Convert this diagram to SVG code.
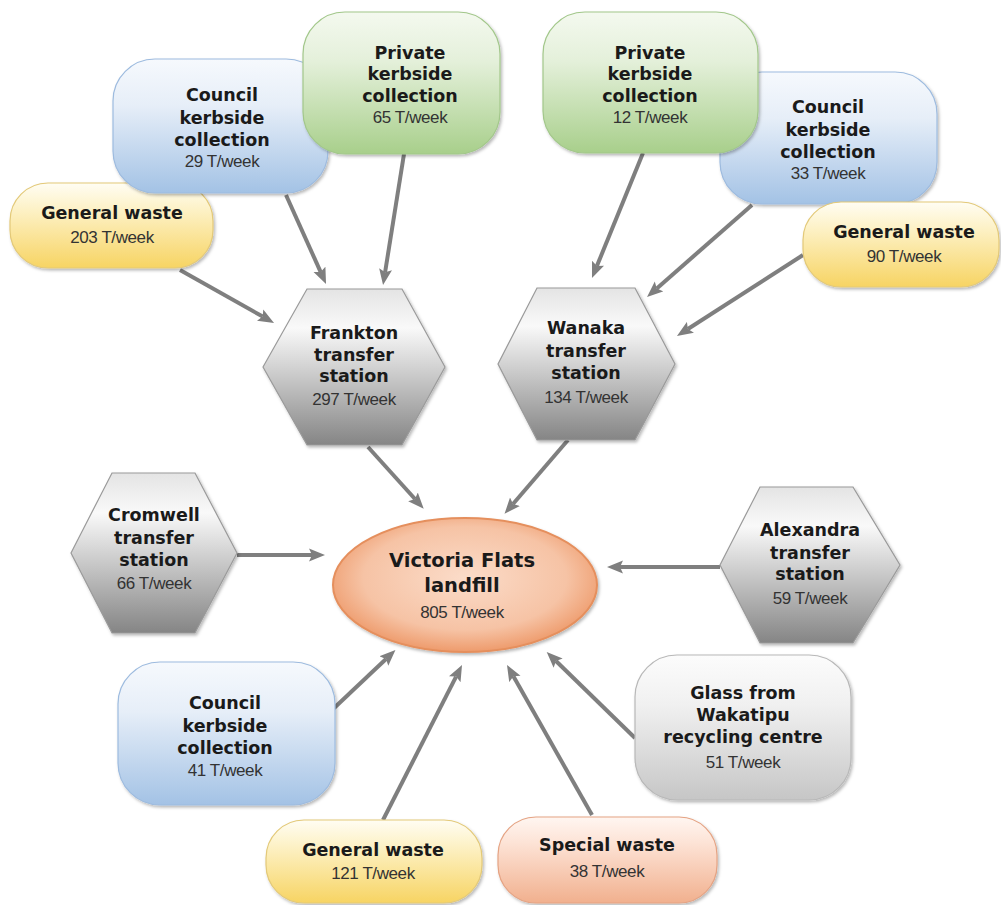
<svg xmlns="http://www.w3.org/2000/svg" width="1001" height="905" viewBox="0 0 1001 905">
<defs>
<linearGradient id="gBlue" x1="0" y1="0" x2="0" y2="1"><stop offset="0" stop-color="#f6f9fd"/><stop offset="0.35" stop-color="#e6eef8"/><stop offset="1" stop-color="#a3c2e5"/></linearGradient>
<linearGradient id="gGreen" x1="0" y1="0" x2="0" y2="1"><stop offset="0" stop-color="#f4f9ef"/><stop offset="0.35" stop-color="#e4f0da"/><stop offset="1" stop-color="#a8cf8b"/></linearGradient>
<linearGradient id="gYellow" x1="0" y1="0" x2="0" y2="1"><stop offset="0" stop-color="#fffdf3"/><stop offset="0.3" stop-color="#fdf2c8"/><stop offset="1" stop-color="#f7d463"/></linearGradient>
<linearGradient id="gHex" x1="0" y1="0" x2="0" y2="1"><stop offset="0" stop-color="#e4e4e4"/><stop offset="0.25" stop-color="#f9f9f9"/><stop offset="1" stop-color="#858585"/></linearGradient>
<linearGradient id="gGlass" x1="0" y1="0" x2="0" y2="1"><stop offset="0" stop-color="#fcfcfc"/><stop offset="0.35" stop-color="#f0f0f0"/><stop offset="1" stop-color="#c6c6c6"/></linearGradient>
<linearGradient id="gSpecial" x1="0" y1="0" x2="0" y2="1"><stop offset="0" stop-color="#fff6f1"/><stop offset="0.3" stop-color="#fde3d6"/><stop offset="1" stop-color="#f1b08e"/></linearGradient>
<radialGradient id="gOrange" cx="0.5" cy="0.45" r="0.55"><stop offset="0" stop-color="#fbdcc9"/><stop offset="0.7" stop-color="#f6c3a5"/><stop offset="1" stop-color="#ee9b6c"/></radialGradient>
<filter id="sh" x="-10%" y="-10%" width="125%" height="130%"><feDropShadow dx="1.5" dy="2" stdDeviation="1.5" flood-color="#000" flood-opacity="0.28"/></filter>
<marker id="ah" markerUnits="userSpaceOnUse" markerWidth="18" markerHeight="14" refX="3" refY="7" orient="auto"><path d="M0,0.5 L16,7 L0,13.5 L3,7 z" fill="#7f7f7f"/></marker>
<style>
.b{font-family:"DejaVu Sans",Verdana,sans-serif;font-weight:bold;font-size:17.5px;fill:#1a1a1a;text-anchor:middle}
.r{font-family:"Liberation Sans",Arial,sans-serif;font-size:17px;fill:#333;text-anchor:middle;letter-spacing:-0.4px}
.t{font-family:"DejaVu Sans",Verdana,sans-serif;font-weight:bold;font-size:19.5px;fill:#1a1a1a;text-anchor:middle}
.c{stroke:#7f7f7f;stroke-width:4;fill:none;marker-end:url(#ah)}
.blue{fill:url(#gBlue);stroke:#9dbbdf;stroke-width:1.2;filter:url(#sh)}
.green{fill:url(#gGreen);stroke:#a2c78a;stroke-width:1.2;filter:url(#sh)}
.yellow{fill:url(#gYellow);stroke:#e3c978;stroke-width:1.2;filter:url(#sh)}
.hex{fill:url(#gHex);stroke:#9a9a9a;stroke-width:1.2;filter:url(#sh)}
.glass{fill:url(#gGlass);stroke:#b8b8b8;stroke-width:1.2;filter:url(#sh)}
.special{fill:url(#gSpecial);stroke:#e5a383;stroke-width:1.2;filter:url(#sh)}
.orange{fill:url(#gOrange);stroke:#e58f5d;stroke-width:2;filter:url(#sh)}
</style>
</defs>
<rect width="1001" height="905" fill="#ffffff"/>
<g id="connectors">
<line class="c" x1="286" y1="195" x2="320.7" y2="272.1"/>
<line class="c" x1="404" y1="154" x2="385.1" y2="272.2"/>
<line class="c" x1="180" y1="270" x2="262.7" y2="316.6"/>
<line class="c" x1="368" y1="447" x2="415" y2="499"/>
<line class="c" x1="237" y1="555" x2="312" y2="555"/>
<line class="c" x1="643" y1="153" x2="596.9" y2="266"/>
<line class="c" x1="752" y1="205" x2="656.8" y2="288.4"/>
<line class="c" x1="803" y1="255" x2="687.9" y2="329"/>
<line class="c" x1="568" y1="440" x2="513" y2="504"/>
<line class="c" x1="720" y1="567" x2="620" y2="567"/>
<line class="c" x1="332" y1="710" x2="386" y2="659"/>
<line class="c" x1="383" y1="820" x2="456.1" y2="676.6"/>
<line class="c" x1="592" y1="815" x2="513.4" y2="676.3"/>
<line class="c" x1="635" y1="738" x2="556" y2="661"/>
</g>
<g id="general-tl">
<rect class="yellow" x="10" y="183" width="203" height="85" rx="38" ry="38"/>
<text class="b" x="112" y="219">General waste</text>
<text class="r" x="112" y="243">203 T/week</text>
</g>
<g id="council-tl">
<rect class="blue" x="113" y="59" width="215" height="134" rx="42" ry="42"/>
<text class="b" x="222" y="101">Council</text>
<text class="b" x="222" y="124">kerbside</text>
<text class="b" x="222" y="146">collection</text>
<text class="r" x="222" y="167">29 T/week</text>
</g>
<g id="private-tl">
<rect class="green" x="303" y="12" width="197" height="142" rx="42" ry="42"/>
<text class="b" x="410" y="59">Private</text>
<text class="b" x="410" y="80">kerbside</text>
<text class="b" x="410" y="102">collection</text>
<text class="r" x="410" y="123">65 T/week</text>
</g>
<g id="council-tr">
<rect class="blue" x="720" y="72" width="217" height="132" rx="42" ry="42"/>
<text class="b" x="828" y="113">Council</text>
<text class="b" x="828" y="136">kerbside</text>
<text class="b" x="828" y="158">collection</text>
<text class="r" x="828" y="179">33 T/week</text>
</g>
<g id="private-tr">
<rect class="green" x="543" y="12" width="215" height="141" rx="42" ry="42"/>
<text class="b" x="650" y="59">Private</text>
<text class="b" x="650" y="80">kerbside</text>
<text class="b" x="650" y="102">collection</text>
<text class="r" x="650" y="123">12 T/week</text>
</g>
<g id="general-tr">
<rect class="yellow" x="803" y="202" width="196" height="85" rx="38" ry="38"/>
<text class="b" x="904" y="238">General waste</text>
<text class="r" x="904" y="262">90 T/week</text>
</g>
<g id="frankton">
<polygon class="hex" points="263,367 307,289 402,289 445,367 402,445 307,445"/>
<text class="b" x="354" y="339">Frankton</text>
<text class="b" x="354" y="361">transfer</text>
<text class="b" x="354" y="382">station</text>
<text class="r" x="354" y="405">297 T/week</text>
</g>
<g id="wanaka">
<polygon class="hex" points="498,364 537,288 635,288 675,364 635,440 537,440"/>
<text class="b" x="586" y="334">Wanaka</text>
<text class="b" x="586" y="357">transfer</text>
<text class="b" x="586" y="379">station</text>
<text class="r" x="586" y="403">134 T/week</text>
</g>
<g id="cromwell">
<polygon class="hex" points="71,553 112,473 195,473 237,553 195,633 112,633"/>
<text class="b" x="154" y="521">Cromwell</text>
<text class="b" x="154" y="544">transfer</text>
<text class="b" x="154" y="566">station</text>
<text class="r" x="154" y="589">66 T/week</text>
</g>
<g id="alexandra">
<polygon class="hex" points="720,565 760,487 853,487 900,565 853,643 760,643"/>
<text class="b" x="810" y="536">Alexandra</text>
<text class="b" x="810" y="559">transfer</text>
<text class="b" x="810" y="580">station</text>
<text class="r" x="810" y="604">59 T/week</text>
</g>
<g id="victoria-flats">
<ellipse class="orange" cx="465" cy="585" rx="132" ry="67"/>
<text class="t" x="462" y="567">Victoria Flats</text>
<text class="t" x="462" y="592">landfill</text>
<text class="r" x="462" y="618">805 T/week</text>
</g>
<g id="council-bl">
<rect class="blue" x="118" y="662" width="217" height="143" rx="42" ry="42"/>
<text class="b" x="225" y="709">Council</text>
<text class="b" x="225" y="732">kerbside</text>
<text class="b" x="225" y="754">collection</text>
<text class="r" x="225" y="776">41 T/week</text>
</g>
<g id="glass">
<rect class="glass" x="635" y="655" width="216" height="145" rx="42" ry="42"/>
<text class="b" x="743" y="699">Glass from</text>
<text class="b" x="743" y="721">Wakatipu</text>
<text class="b" x="743" y="743">recycling centre</text>
<text class="r" x="743" y="768">51 T/week</text>
</g>
<g id="general-b">
<rect class="yellow" x="266" y="820" width="216" height="83" rx="38" ry="38"/>
<text class="b" x="373" y="856">General waste</text>
<text class="r" x="373" y="879">121 T/week</text>
</g>
<g id="special">
<rect class="special" x="498" y="817" width="219" height="86" rx="38" ry="38"/>
<text class="b" x="607" y="851">Special waste</text>
<text class="r" x="607" y="877">38 T/week</text>
</g>
</svg>
